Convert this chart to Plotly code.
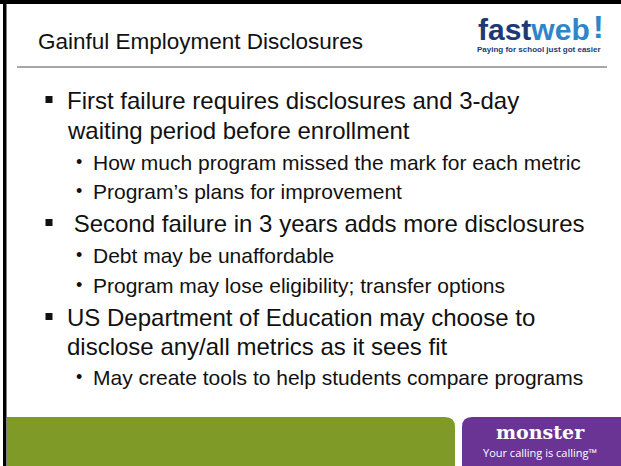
import plotly.graph_objects as go

W, H = 621, 466

title_text = "Gainful Employment Disclosures"
bullet_texts = [
    "First failure requires disclosures and 3-day",
    "waiting period before enrollment",
    "How much program missed the mark for each metric",
    "Program\u2019s plans for improvement",
    "\u00a0Second failure in 3 years adds more disclosures",
    "Debt may be unaffordable",
    "Program may lose eligibility; transfer options",
    "US Department of Education may choose to",
    "disclose any/all metrics as it sees fit",
    "May create tools to help students compare programs",
]
bullet_levels = [1, 0, 2, 2, 1, 2, 2, 1, 0, 2]  # 1 = main bullet, 0 = continuation, 2 = sub bullet
brand_top = ["fast", "web"]
brand_tag = "Paying for school just got easier"
footer_brand = "monster"
footer_tag = "Your calling is calling\u2122"

# layout (pixel space)
line_y = [100, 130, 162, 191, 223, 255, 285, 317, 346, 377]
FONT = "Liberation Sans, Arial, sans-serif"

fig = go.Figure()
fig.add_trace(go.Scatter(x=[0, W], y=[0, H], mode="markers", marker=dict(opacity=0),
                         hoverinfo="skip", showlegend=False))

shapes = []
# slide border (top & left)
shapes.append(dict(type="rect", x0=0, x1=W, y0=0, y1=4, fillcolor="#000", line=dict(width=0), layer="above"))
shapes.append(dict(type="rect", x0=3, x1=6.5, y0=0, y1=H, fillcolor="#000", line=dict(width=0), layer="above"))
# separator
shapes.append(dict(type="line", x0=17, x1=607, y0=67, y1=67, line=dict(color="#8a8a8a", width=1.5)))
# green footer with rounded top-right corner
r = 10
gx1 = 455
px0 = 462
shapes.append(dict(type="path",
                   path=f"M 7 {H} L 7 417 L {gx1-r} 417 Q {gx1} 417 {gx1} {417+r} L {gx1} {H} Z",
                   fillcolor="#809a27", line=dict(width=0)))
# purple footer with rounded top-left corner
shapes.append(dict(type="path",
                   path=f"M {px0} {H} L {px0} {417+r} Q {px0} 417 {px0+r} 417 L {W} 417 L {W} {H} Z",
                   fillcolor="#6a3495", line=dict(width=0)))

ann = []
ann.append(dict(x=36, y=41, text=title_text, showarrow=False, xanchor="left", yanchor="middle",
                font=dict(family=FONT, size=22.5, color="#111")))

for txt, lvl, y in zip(bullet_texts, bullet_levels, line_y):
    if lvl in (0, 1):
        if lvl == 1:
            shapes.append(dict(type="rect", x0=45.5, x1=52.5, y0=y - 4, y1=y + 3,
                               fillcolor="#111", line=dict(width=0)))
        ann.append(dict(x=65, y=y, text=txt, showarrow=False, xanchor="left", yanchor="middle",
                        font=dict(family=FONT, size=24, color="#111")))
    else:
        ann.append(dict(x=74, y=y, text="\u2022", showarrow=False, xanchor="left", yanchor="middle",
                        font=dict(family=FONT, size=18, color="#111")))
        ann.append(dict(x=91, y=y, text=txt, showarrow=False, xanchor="left", yanchor="middle",
                        font=dict(family=FONT, size=21, color="#111")))

# fastweb logo
ann.append(dict(x=476, y=29, text=f"<b><span style='color:#1d3a75'>{brand_top[0]}</span>"
                                  f"<span style='color:#2e86c8'>{brand_top[1]}</span></b>",
                showarrow=False, xanchor="left", yanchor="middle",
                font=dict(family=FONT, size=30)))
ann.append(dict(x=598, y=27, text="<b>!</b>", showarrow=False, xanchor="center", yanchor="middle",
                font=dict(family=FONT, size=32, color="#2e86c8")))
ann.append(dict(x=539, y=49, text=f"<b>{brand_tag}</b>", showarrow=False, xanchor="center", yanchor="middle",
                font=dict(family=FONT, size=8, color="#1d3a75")))

# monster
ann.append(dict(x=540, y=432, text=f"<b>{footer_brand}</b>", showarrow=False, xanchor="center", yanchor="middle",
                font=dict(family="DejaVu Serif, serif", size=19, color="white")))
ann.append(dict(x=540, y=452, text=footer_tag, showarrow=False, xanchor="center", yanchor="middle",
                font=dict(family="Open Sans, sans-serif", size=11, color="white")))

fig.update_layout(
    width=W, height=H, margin=dict(l=0, r=0, t=0, b=0),
    paper_bgcolor="white", plot_bgcolor="white",
    xaxis=dict(range=[0, W], visible=False, fixedrange=True),
    yaxis=dict(range=[H, 0], visible=False, fixedrange=True),
    shapes=shapes, annotations=ann, showlegend=False,
)
fig.write_html("out.html", post_script="document.body.style.margin='0';",
               config={"displayModeBar": False})
